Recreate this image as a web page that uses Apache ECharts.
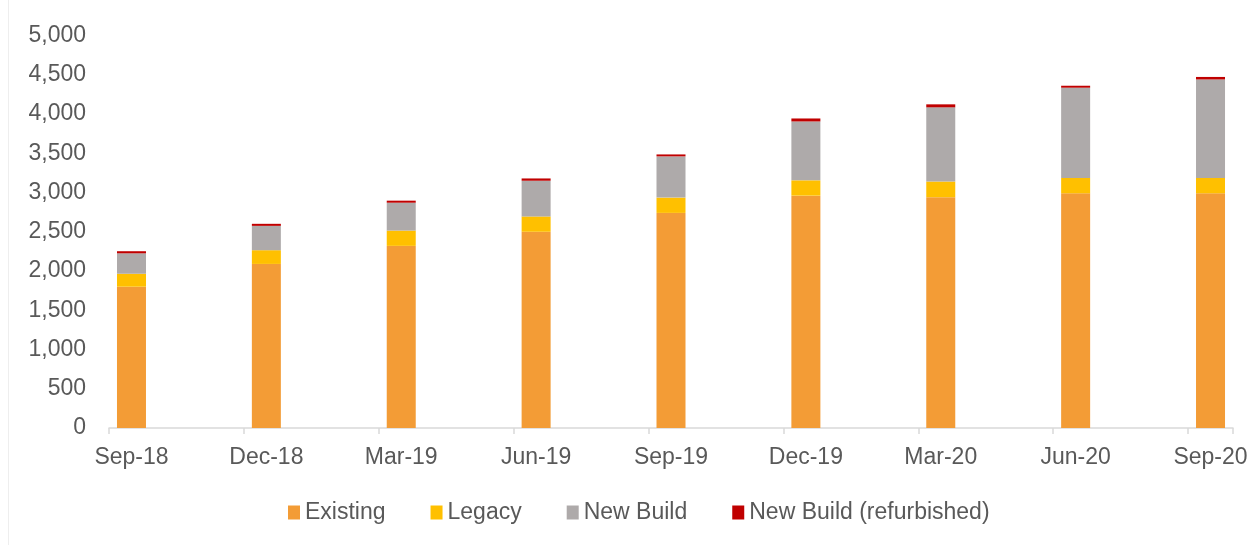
<!DOCTYPE html>
<html>
<head>
<meta charset="utf-8">
<script src="https://cdn.jsdelivr.net/npm/echarts@6/dist/echarts.min.js"></script>
<style>
html,body{margin:0;padding:0;background:#fff;}
#chart{width:1259px;height:545px;}
</style>
</head>
<body>
<div id="chart"></div>
<script>
// Quarter labels (one bar per quarter)
const quarters = ['Sep-18','Dec-18','Mar-19','Jun-19','Sep-19','Dec-19','Mar-20','Jun-20','Sep-20'];
// Series values
const existing   = [1800, 2090, 2320, 2500, 2740, 2960, 2940, 2990, 2990];
const legacy     = [ 165,  175,  195,  195,  195,  195,  200,  195,  195];
const newBuild   = [ 260,  310,  355,  455,  525,  750,  945, 1150, 1255];
const newBuildRf = [  27,   26,   26,   29,   25,   38,   38,   25,   32];
const yTicks = [0, 500, 1000, 1500, 2000, 2500, 3000, 3500, 4000, 4500, 5000];

const seriesNames = ['Existing', 'Legacy', 'New Build', 'New Build (refurbished)'];
const seriesColors = ['#F39C36', '#FFC000', '#AEAAAA', '#C00000'];

// The source chart uses a monthly date axis; quarters sit every 3rd month.
const monthsPerStep = 3;
const nMonths = (quarters.length - 1) * monthsPerStep + 1;
const categories = [];
for (let m = 0; m < nMonths; m++) {
  categories.push(m % monthsPerStep === 0 ? quarters[m / monthsPerStep] : '\u200b'.repeat(m));
}
function spread(arr) {
  const out = new Array(nMonths).fill(null);
  arr.forEach((v, i) => { out[i * monthsPerStep] = v; });
  return out;
}
const allData = [existing, legacy, newBuild, newBuildRf];

const font = '"Liberation Sans", Arial, sans-serif';
const chart = echarts.init(document.getElementById('chart'), null, {renderer: 'canvas'});
chart.setOption({
  animation: false,
  backgroundColor: '#ffffff',
  graphic: [{
    type: 'rect',
    shape: {x: 8, y: 0, width: 1, height: 545},
    style: {fill: '#EEEEEE'},
    silent: true
  }],
  grid: {left: 109, right: 26, top: 35.5, bottom: 117, containLabel: false},
  legend: {
    top: 496,
    left: 283,
    itemWidth: 12,
    itemHeight: 14,
    itemGap: 45,
    icon: 'rect',
    textStyle: {fontFamily: font, fontSize: 23, color: '#595959'},
    data: seriesNames
  },
  xAxis: {
    type: 'category',
    data: categories,
    boundaryGap: true,
    axisLine: {show: true, lineStyle: {color: '#D9D9D9', width: 1.5}},
    axisTick: {show: true, length: 6, interval: monthsPerStep - 1, lineStyle: {color: '#D9D9D9', width: 1.5}},
    axisLabel: {interval: monthsPerStep - 1, margin: 18, fontFamily: font, fontSize: 23, color: '#595959'},
    splitLine: {show: false}
  },
  yAxis: {
    type: 'value',
    min: yTicks[0],
    max: yTicks[yTicks.length - 1],
    interval: yTicks[1] - yTicks[0],
    axisLine: {show: false},
    axisTick: {show: false},
    splitLine: {show: false},
    axisLabel: {
      margin: 23, fontFamily: font, fontSize: 23, color: '#595959',
      formatter: v => v.toLocaleString('en-US')
    }
  },
  series: seriesNames.map((name, i) => ({
    name: name,
    type: 'bar',
    stack: 'total',
    barWidth: 29,
    itemStyle: {color: seriesColors[i]},
    data: spread(allData[i])
  }))
});
</script>
</body>
</html>
